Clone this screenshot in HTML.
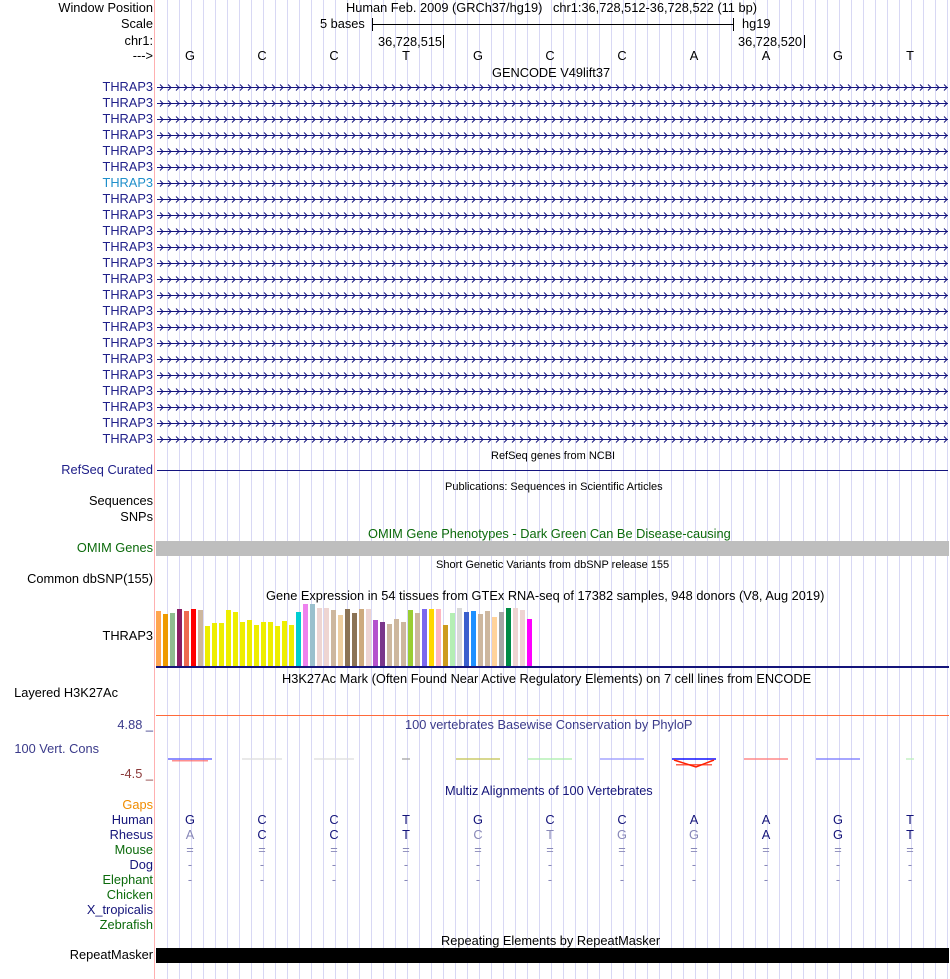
<!DOCTYPE html>
<html><head><meta charset="utf-8">
<style>
html,body{margin:0;padding:0;background:#fff;}
#root{position:relative;width:950px;height:979px;overflow:hidden;font-family:"Liberation Sans",Arial,sans-serif;font-size:12.8px;color:#000;}
.l{position:absolute;right:797px;white-space:nowrap;line-height:14px;}
.t{position:absolute;white-space:nowrap;line-height:14px;}
.s{font-size:11px;}
svg{position:absolute;left:0;top:0;}
</style></head><body>
<div id="root">
<svg id="g" width="950" height="979"></svg>

<div class="l" style="top:1px">Window Position</div>
<div class="l" style="top:17px">Scale</div>
<div class="l" style="top:34px">chr1:</div>
<div class="l" style="top:49px">---&gt;</div>

<div class="t" style="left:346px;top:1px">Human Feb. 2009 (GRCh37/hg19)&nbsp;&nbsp;&nbsp;chr1:36,728,512-36,728,522 (11 bp)</div>
<div class="t" style="left:320px;top:17px">5 bases</div>
<div class="t" style="left:742px;top:17px">hg19</div>
<div class="t" style="left:378px;top:35px">36,728,515</div>
<div class="t" style="left:738px;top:35px">36,728,520</div>
<div class="t" style="left:492px;top:66px">GENCODE V49lift37</div>

<div id="genelabels"></div>

<div class="t s" style="left:491px;top:449px">RefSeq genes from NCBI</div>
<div class="l" style="top:463px;color:#20208a">RefSeq Curated</div>
<div class="t s" style="left:445px;top:480px">Publications: Sequences in Scientific Articles</div>
<div class="l" style="top:494px">Sequences</div>
<div class="l" style="top:510px">SNPs</div>
<div class="t" style="left:368px;top:527px;color:#0b6a0b">OMIM Gene Phenotypes - Dark Green Can Be Disease-causing</div>
<div class="l" style="top:541px;color:#0b6a0b">OMIM Genes</div>
<div class="t s" style="left:436px;top:558px">Short Genetic Variants from dbSNP release 155</div>
<div class="l" style="top:572px">Common dbSNP(155)</div>
<div class="t" style="left:266px;top:589px">Gene Expression in 54 tissues from GTEx RNA-seq of 17382 samples, 948 donors (V8, Aug 2019)</div>
<div class="l" style="top:629px">THRAP3</div>
<div class="t" style="left:282px;top:672px">H3K27Ac Mark (Often Found Near Active Regulatory Elements) on 7 cell lines from ENCODE</div>
<div class="l" style="top:686px;right:832px">Layered H3K27Ac</div>
<div class="l" style="top:718px;color:#3a3a8a">4.88 _</div>
<div class="t" style="left:405px;top:718px;color:#3a3a8a">100 vertebrates Basewise Conservation by PhyloP</div>
<div class="l" style="top:742px;right:851px;color:#3a3a8a">100 Vert. Cons</div>
<div class="l" style="top:767px;color:#8b3a3a">-4.5 _</div>
<div class="t" style="left:445px;top:784px;color:#14147a">Multiz Alignments of 100 Vertebrates</div>
<div class="l" style="top:798px;color:#f08c00">Gaps</div>
<div class="l" style="top:813px;color:#14147a">Human</div>
<div class="l" style="top:828px;color:#14147a">Rhesus</div>
<div class="l" style="top:843px;color:#0b6a0b">Mouse</div>
<div class="l" style="top:858px;color:#14147a">Dog</div>
<div class="l" style="top:873px;color:#0b6a0b">Elephant</div>
<div class="l" style="top:888px;color:#0b6a0b">Chicken</div>
<div class="l" style="top:903px;color:#14147a">X_tropicalis</div>
<div class="l" style="top:918px;color:#0b6a0b">Zebrafish</div>
<div class="t" style="left:441px;top:934px">Repeating Elements by RepeatMasker</div>
<div class="l" style="top:948px">RepeatMasker</div>
<div id="bases"></div>
</div>
<script>
const tpm=[55,52,53,57,55,57,56,40,43,43,56,54,44,46,41,44,44,40,45,41,54,62,62,58,58,56,51,57,53,57,57,46,44,42,47,44,56,53,57,57,57,41,53,58,54,55,52,55,49,54,58,58,56,47];
const tissueColors=["#FFA54F","#EE9A00","#8FBC8F","#8B1C62","#EE6A50","#FF0000","#CDB79E","#EEEE00","#EEEE00","#EEEE00","#EEEE00","#EEEE00","#EEEE00","#EEEE00","#EEEE00","#EEEE00","#EEEE00","#EEEE00","#EEEE00","#EEEE00","#00CED1","#EE82EE","#9AC0CD","#EED5D2","#EED5D2","#CDB79E","#EECFA1","#8B7355","#8B7355","#CDAA7D","#EED5D2","#B452CD","#7A378B","#CDB79E","#CDB79E","#CDB79E","#9ACD32","#CDB79E","#7B68EE","#FFD700","#FFB6C1","#CD9B1D","#B4EEB4","#D9D9D9","#3A5FCD","#1E90FF","#CDB79E","#CDB79E","#FFD39B","#A6A6A6","#008B45","#EED5D2","#EED5D2","#FF00FF"];
const refBases=["G","C","C","T","G","C","C","A","A","G","T"];
const rhesusBases=["A","C","C","T","C","T","G","G","A","G","T"];
const NS="http://www.w3.org/2000/svg";
const svg=document.getElementById('g');
function mk(tag,attrs){const e=document.createElementNS(NS,tag);for(const k in attrs)e.setAttribute(k,attrs[k]);svg.appendChild(e);return e;}
for(let x=167;x<950;x+=12){const e=mk('line',{x1:x+.5,y1:0,x2:x+.5,y2:979,stroke:'#d8d8f4','stroke-width':1});

}
let e=mk('line',{x1:154.5,y1:0,x2:154.5,y2:979,stroke:'#ffb0b0'});


mk('line',{x1:372,y1:24.5,x2:733,y2:24.5,stroke:'#000'});
mk('line',{x1:372.5,y1:18,x2:372.5,y2:31,stroke:'#000'});
mk('line',{x1:733.5,y1:18,x2:733.5,y2:31,stroke:'#000'});
mk('line',{x1:443.5,y1:35,x2:443.5,y2:48,stroke:'#000'});
mk('line',{x1:804.5,y1:35,x2:804.5,y2:48,stroke:'#000'});
const gl=document.getElementById('genelabels');
for(let i=0;i<23;i++){
 const y=87+16*i;
 const d=document.createElement('div');d.className='l';d.style.top=(y-7)+'px';d.style.color=(i==6?'#1f8fcb':'#20208a');d.textContent='THRAP3';
 
 
 gl.appendChild(d);
 const ln=mk('line',{x1:157,y1:y+.5,x2:948,y2:y+.5,stroke:'#14147f'});
 
 
 let p='';for(let x=160;x<946;x+=8){p+=`M${x},${y-2.5}L${x+3},${y+.5}L${x},${y+3.5}`;}
 mk('path',{d:p,stroke:'#14147f',fill:'none','stroke-width':1});
}
mk('line',{x1:157,y1:470.5,x2:948,y2:470.5,stroke:'#14147f'});
e=mk('rect',{x:156,y:541,width:793,height:15,fill:'#bebebe'});


const base=666,bx=(i)=>156+i*7,by=(v)=>base-v;
tpm.forEach((v,i)=>{const r=mk('rect',{x:bx(i),y:by(v),width:5,height:v,fill:tissueColors[i]});

});
mk('rect',{x:156,y:666,width:793,height:2,fill:'#14147a'});
mk('line',{x1:156,y1:715.5,x2:949,y2:715.5,stroke:'#ff6a3a'});
const consCols=[['#6060ff','#ff6060'],['#e0e0e0'],['#e0e0e0'],['#aaa'],['#c8c860'],['#b0f0b0'],['#a0a0ff'],['#0000ff','#ff2000'],['#ff8080'],['#8080ff'],['#c0f0c0']];
for(let i=0;i<11;i++){const cx=190+72*i;const c=consCols[i];
 let w=i==3||i==10?8:44;
 if(i==1||i==2){w=40;}
 mk('rect',{x:cx-w/2,y:758,width:w,height:2,fill:c[0],opacity:0.7});
 if(c[1]) mk('rect',{x:cx-w/2+4,y:i==7?764:760,width:w-8,height:1.5,fill:c[1],opacity:.7});
}
mk('path',{d:'M674,760L696,767L714,760',stroke:'#ff2000',fill:'none','stroke-width':1.5});
const bd=document.getElementById('bases');
function txt(x,y,s,col,name){const d=document.createElement('div');d.className='t';d.style.left=(x-5)+'px';d.style.width='10px';d.style.textAlign='center';d.style.top=(y-7)+'px';d.style.color=col;d.textContent=s;
 
 
 bd.appendChild(d);}
refBases.forEach((b,i)=>{const x=190+72*i;
 txt(x,56,b,'#000','ref-base');
 txt(x,820,b,'#14147a','human-base');
 txt(x,835,rhesusBases[i],rhesusBases[i]==b?'#14147a':'#8888b8','rhesus-base');
 txt(x,850,'=','#8888b8','mouse-base');
 txt(x,865,'-','#8888b8','dog-base');
 txt(x,880,'-','#8888b8','elephant-base');
});
e=mk('rect',{x:156,y:948,width:793,height:15,fill:'#000'});


</script>
</body></html>
